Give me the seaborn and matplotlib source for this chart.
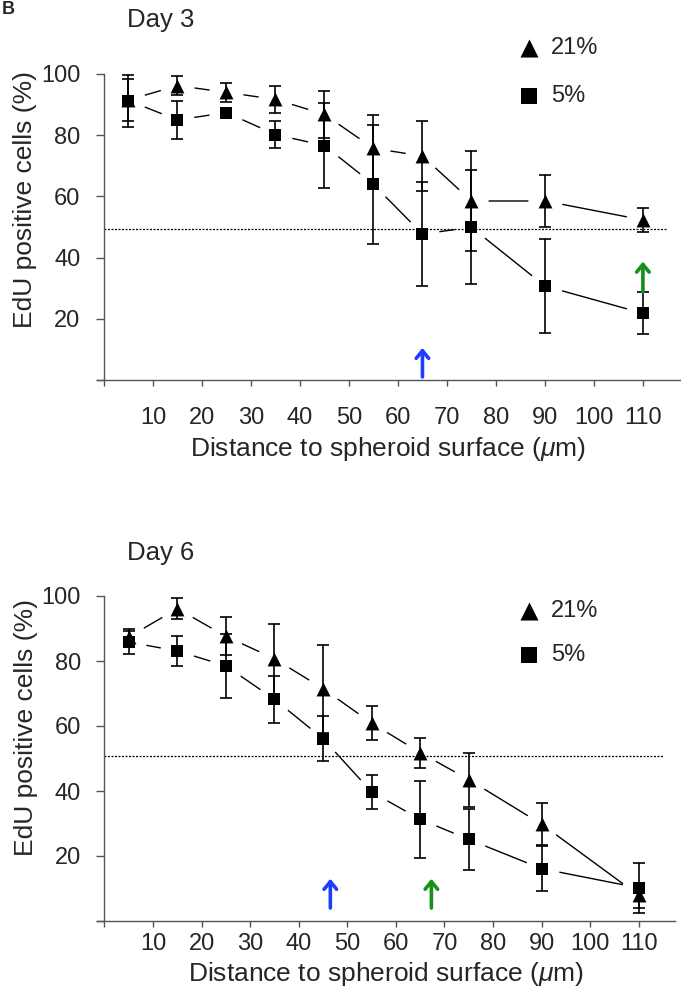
import numpy as np
import pandas as pd
import matplotlib
matplotlib.use("Agg")
import matplotlib.pyplot as plt
import seaborn as sns

# data
dist = [5, 15, 25, 35, 45, 55, 65, 75, 90, 110]

d3_21 = [91.5, 96.2, 94.0, 91.7, 86.8, 75.7, 73.2, 58.5, 58.5, 52.3]
d3_21_err = [7.0, 3.0, 3.2, 4.5, 7.7, 11.0, 11.4, 16.3, 8.5, 3.8]
d3_5 = [91.3, 85.0, 87.4, 80.2, 76.6, 63.9, 47.7, 49.9, 30.7, 21.8]
d3_5_err = [8.5, 6.1, 1.2, 4.4, 14.0, 19.5, 17.0, 18.6, 15.3, 6.8]

d6_21 = [87.4, 96.1, 87.6, 80.7, 71.5, 60.9, 51.8, 43.5, 29.8, 7.9]
d6_21_err = [2.5, 3.3, 5.9, 10.8, 13.5, 5.2, 4.6, 8.3, 6.5, 3.8]
d6_5 = [85.8, 83.1, 78.5, 68.2, 56.1, 39.7, 31.3, 25.1, 16.1, 10.2]
d6_5_err = [3.5, 4.6, 9.8, 7.2, 7.0, 5.2, 11.9, 9.5, 7.0, 7.6]

d3_threshold = 49.5
d6_threshold = 50.7

# arrows: (x, y_start, y_end, colour)
d3_arrows = [(65, 1.0, 10.5, "#1f3dff"), (110, 28.8, 38.7, "#179017")]
d6_arrows = [(46.5, 4.0, 13.0, "#1f3dff"), (67.3, 4.0, 13.0, "#179017")]

xticks = [0, 10, 20, 30, 40, 50, 60, 70, 80, 90, 100, 110]
xticklabels = [""] + [str(t) for t in xticks[1:]]
yticks = [0, 20, 40, 60, 80, 100]
yticklabels = [""] + [str(t) for t in yticks[1:]]

sns.set_style("ticks")
plt.rcParams["font.family"] = ["Liberation Sans", "DejaVu Sans"]
plt.rcParams["mathtext.fontset"] = "custom"
plt.rcParams["mathtext.rm"] = "Liberation Sans"
plt.rcParams["mathtext.it"] = "Liberation Sans:italic"

W, H = 681, 992
fig = plt.figure(figsize=(W / 100, H / 100), dpi=100)


def panel(rect, y21, e21, y5, e5, thr, arrows, title, title_y, leg_top, leg_space, xpad, ylab_y):
    ax = fig.add_axes(rect)
    df = pd.DataFrame({
        "dist": dist * 2,
        "edu": y21 + y5,
        "err": e21 + e5,
        "o2": ["21%"] * len(dist) + ["5%"] * len(dist),
    })

    # connecting lines, broken around each point
    sns.lineplot(data=df, x="dist", y="edu", units="o2", estimator=None,
                 color="black", lw=1.0, ax=ax, legend=False, zorder=1)
    ax.scatter(df["dist"], df["edu"], s=560, color="white", zorder=2, clip_on=False)
    ax.plot([0, 115], [thr, thr], color="black", lw=0.9, ls=(0, (1.6, 1.2)), zorder=2.5)

    for series, grp in df.groupby("o2"):
        ax.errorbar(grp["dist"], grp["edu"], yerr=grp["err"], fmt="none",
                    ecolor="black", elinewidth=1.2, capsize=4.5, capthick=1.2,
                    zorder=3, clip_on=False)

    sns.scatterplot(x=dist, y=y21, marker="^", s=100, color="black", linewidth=0,
                    ax=ax, zorder=4, label="21%", clip_on=False)
    sns.scatterplot(x=dist, y=y5, marker="s", s=85, color="black", linewidth=0,
                    ax=ax, zorder=4, label="5%", clip_on=False)

    for x, y0, y1, c in arrows:
        ax.annotate("", xy=(x, y1), xytext=(x, y0),
                    arrowprops=dict(arrowstyle="->,head_length=0.55,head_width=0.45",
                                    color=c, lw=2.6, shrinkA=0, shrinkB=0),
                    zorder=5)

    ax.set_xlim(-1.5, 117.5)
    ax.set_ylim(0, 100)
    ax.spines["left"].set_position(("data", 0))
    ax.spines["left"].set_bounds(0, 100)
    sns.despine(ax=ax)
    for s in ["left", "bottom"]:
        ax.spines[s].set_color("#555555")
        ax.spines[s].set_linewidth(1.0)

    ax.set_xticks(xticks)
    ax.set_xticklabels(xticklabels)
    ax.set_yticks(yticks)
    ax.set_yticklabels(yticklabels)
    ax.tick_params(axis="x", length=4.5, width=1, color="#555555", labelsize=17, pad=xpad)
    ax.tick_params(axis="y", length=6, width=1, color="#555555", labelsize=17, pad=11)

    ax.set_xlabel("Distance to spheroid surface ($\\mathit{\\mu}$m)", fontsize=19)
    ax.set_ylabel("EdU positive cells (%)", fontsize=19)
    ax.yaxis.set_label_coords(-0.102, ylab_y)

    ax.legend(loc="upper left", bbox_to_anchor=(517 / W, 1 - leg_top / H),
              bbox_transform=fig.transFigure, frameon=False, fontsize=17,
              handlelength=1.0, handletextpad=0.45, labelspacing=leg_space,
              borderpad=0, borderaxespad=0, markerscale=1.3)

    fig.text(127 / W, 1 - title_y / H, title, fontsize=18.5, va="center", ha="left")
    return ax


ax1 = panel([96.65 / W, 1 - 380 / H, 583 / W, 306 / H],
            d3_21, d3_21_err, d3_5, d3_5_err, d3_threshold, d3_arrows,
            "Day 3", 20, 37, 1.1, 15, 0.59)
ax2 = panel([97.2 / W, 1 - 921 / H, 578 / W, 325 / H],
            d6_21, d6_21_err, d6_5, d6_5_err, d6_threshold, d6_arrows,
            "Day 6", 553, 600, 0.95, 4, 0.594)

# panel letter in the top-left corner
fig.text(0.003, 0.999, "B", fontsize=13, fontweight="bold", va="top", ha="left")

fig.savefig("out.png", dpi=100)
